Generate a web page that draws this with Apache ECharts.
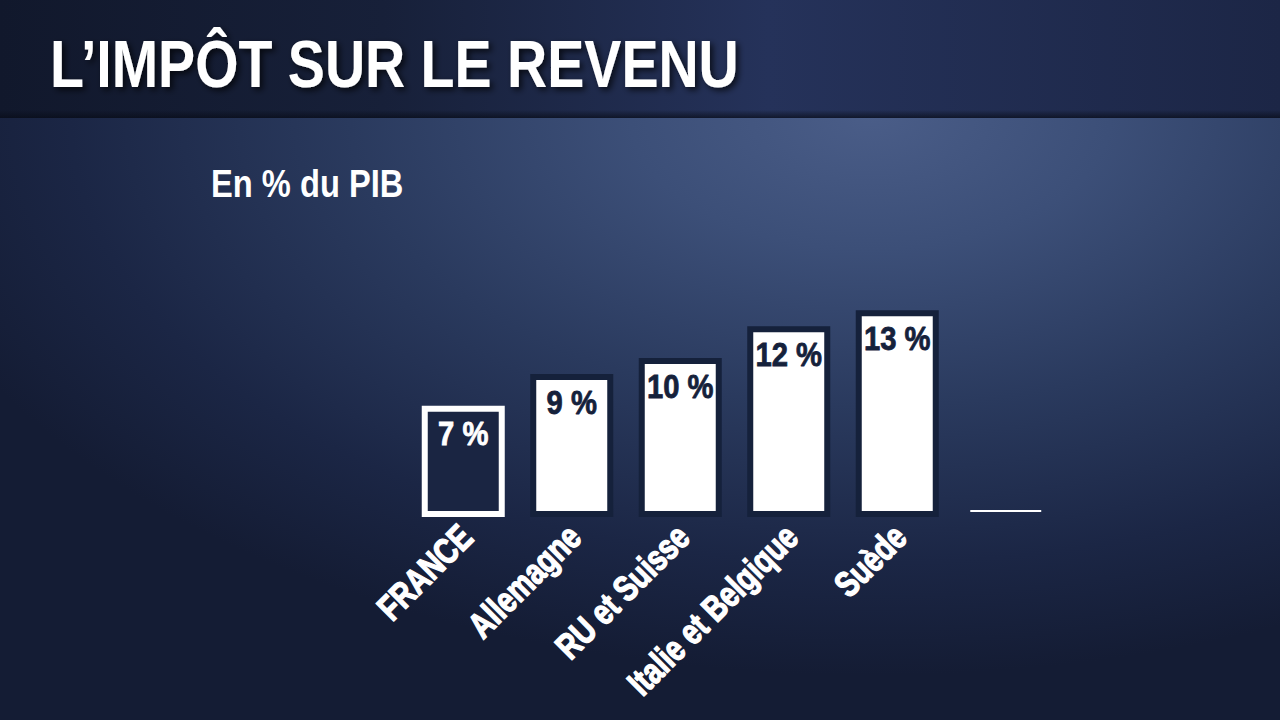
<!DOCTYPE html>
<html><head><meta charset="utf-8">
<script src="https://cdn.jsdelivr.net/npm/echarts@6/dist/echarts.min.js"></script>
<style>
html,body{margin:0;padding:0;width:1280px;height:720px;overflow:hidden;
background: radial-gradient(ellipse 1000px 560px at 68% 16%, #4a5d88 0%, #3c4f78 24%, #2a3a5e 52%, #1b2645 80%, #141c34 100%);}
#chart{width:1280px;height:720px;}
</style></head><body><div id="chart"></div>
<script>
const titleText = "L’IMPÔT SUR LE REVENU";
const subtitleText = "En % du PIB";
const categories = ["FRANCE", "Allemagne", "RU et Suisse", "Italie et Belgique", "Suède", ""];
const values = [7, 9, 10, 12, 13, null];
const highlighted = [true, false, false, false, false, false];
const pendingMarker = [null, null, null, null, null, 0.38];
const valueLabels = ["7 %", "9 %", "10 %", "12 %", "13 %", ""];

const FONT = "'Liberation Sans', Arial, sans-serif";
const chart = echarts.init(document.getElementById('chart'), null, {renderer: 'svg'});

const barData = values.map((v, i) => ({
  value: v,
  itemStyle: highlighted[i]
    ? {color: '#1a2542', borderColor: '#ffffff', borderWidth: 6}
    : {color: '#ffffff', borderColor: '#15213b', borderWidth: 6}
}));

const markerData = pendingMarker.map((v, i) => v == null ? null : [i, v]).filter(Boolean);
const valueLabelData = values.map((v, i) => v == null ? null : [i, v]).filter(Boolean);
const catLabelData = categories.map((c, i) => c ? [i, 0] : null).filter(Boolean);

chart.setOption({
  backgroundColor: 'transparent',
  animation: false,
  graphic: [{
    type: 'rect', z: -10, silent: true,
    shape: {x: 0, y: 0, width: 1280, height: 118},
    style: {fill: {type: 'linear', x: 0, y: 0, x2: 1, y2: 0, colorStops: [
      {offset: 0, color: '#11182c'}, {offset: 0.3, color: '#172039'}, {offset: 0.6, color: '#25325a'}, {offset: 1, color: '#1c2646'}]}}
  }, {
    type: 'rect', z: -9, silent: true,
    shape: {x: 0, y: 110, width: 1280, height: 8},
    style: {fill: {type: 'linear', x: 0, y: 0, x2: 0, y2: 1, colorStops: [
      {offset: 0, color: 'rgba(8,12,24,0)'}, {offset: 1, color: 'rgba(8,12,24,0.7)'}]}}
  }, {
    type: 'text', x: 50, y: 64, scaleX: 0.83, z: 10,
    style: {text: titleText, fill: '#ffffff', font: "bold 67px " + FONT, verticalAlign: 'middle', align: 'left',
      textShadowColor: 'rgba(0,0,0,0.7)', textShadowBlur: 6, textShadowOffsetX: 3, textShadowOffsetY: 3}
  }, {
    type: 'text', x: 211, y: 184, scaleX: 0.86, z: 10,
    style: {text: subtitleText, fill: '#ffffff', font: "bold 38px " + FONT, verticalAlign: 'middle', align: 'left'}
  }],
  grid: {left: 409, width: 651, top: 199, height: 318, outerBoundsMode: 'none'},
  xAxis: {
    type: 'category', data: categories,
    axisLine: {show: false}, axisTick: {show: false}, splitLine: {show: false},
    axisLabel: {show: false}
  },
  yAxis: {type: 'value', min: 0, max: 20, show: false},
  series: [{
    type: 'bar', data: barData, barWidth: 83
  }, {
    type: 'custom', data: valueLabelData, z: 5,
    renderItem: (params, api) => {
      const i = api.value(0);
      const p = api.coord([i, api.value(1)]);
      const c = highlighted[i] ? '#ffffff' : '#15213b';
      return {type: 'text', x: p[0], y: p[1] + 28, scaleX: 0.86,
        style: {text: valueLabels[i], fill: c, stroke: c, lineWidth: 0.8,
          font: "bold 34px " + FONT, align: 'center', verticalAlign: 'middle'}};
    }
  }, {
    type: 'custom', data: catLabelData, z: 5,
    renderItem: (params, api) => {
      const i = api.value(0);
      const p = api.coord([i, 0]);
      return {type: 'text', x: p[0] + 3, y: p[1] + 14, rotation: Math.PI / 4, scaleX: 0.78,
        style: {text: categories[i], fill: '#ffffff', stroke: '#ffffff', lineWidth: 1.4,
          font: "bold 36px " + FONT, align: 'right', verticalAlign: 'middle'}};
    }
  }, {
    type: 'custom', data: markerData,
    renderItem: (params, api) => {
      const p = api.coord([api.value(0), api.value(1)]);
      const w = api.size([1, 0])[0] * 0.654;
      return {type: 'line', shape: {x1: p[0] - w / 2, y1: p[1], x2: p[0] + w / 2, y2: p[1]},
        style: {stroke: '#ffffff', lineWidth: 2}};
    }
  }]
});
</script></body></html>
